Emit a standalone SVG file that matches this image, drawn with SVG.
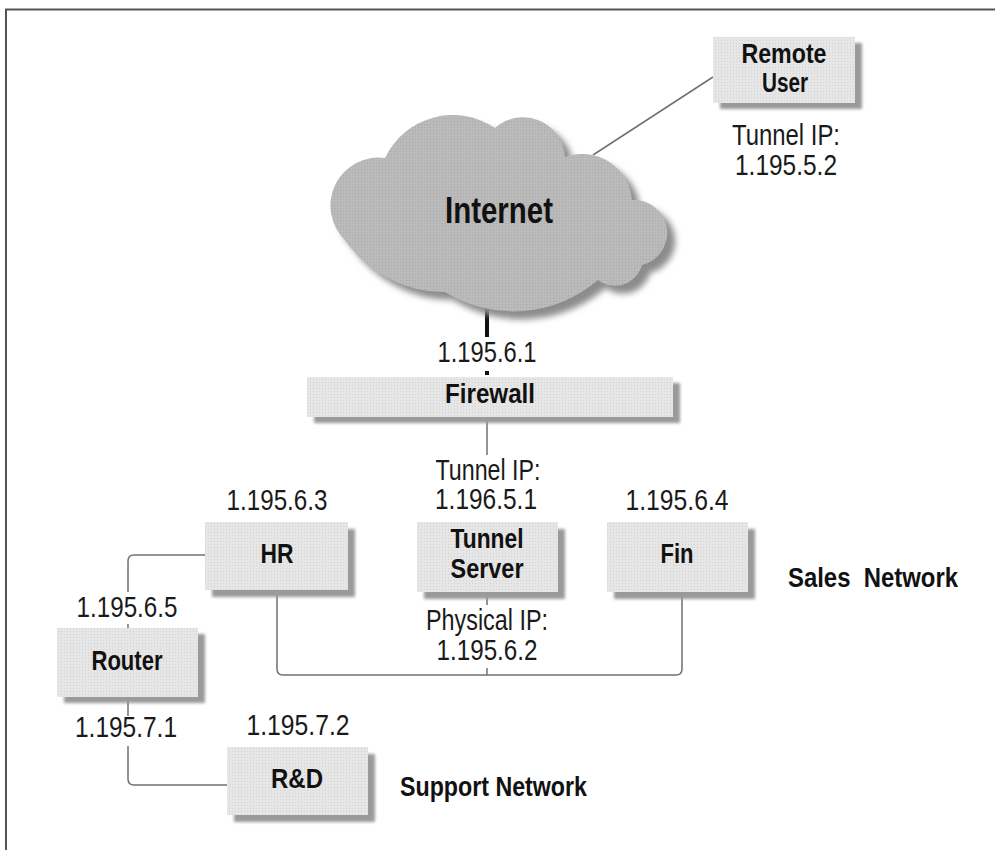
<svg xmlns="http://www.w3.org/2000/svg" width="995" height="850" viewBox="0 0 995 850">
<style>
  .lbl { font-family: "Liberation Sans", Arial, sans-serif; font-size: 29px; fill: #1a1a1a; text-anchor: middle; }
  .bold { font-family: "Liberation Sans", Arial, sans-serif; font-size: 28px; font-weight: bold; fill: #111; text-anchor: middle; }
  .net { text-anchor: start; white-space: pre; }
  .box { fill: url(#stipple); }
  .shadow { fill: #9a9a9a; filter: url(#blur); }
  .conn { fill: none; stroke: #707070; stroke-width: 1.5; }
  .thick { fill: none; stroke: #111; stroke-width: 4; }
</style>
<defs>
  <filter id="blur" x="-10%" y="-10%" width="120%" height="120%"><feGaussianBlur stdDeviation="1.6"/></filter>
  <filter id="cblur" x="-10%" y="-10%" width="120%" height="120%"><feGaussianBlur stdDeviation="3"/></filter>
  <pattern id="stipple" width="3" height="3" patternUnits="userSpaceOnUse">
    <rect width="3" height="3" fill="#e6e6e6"/>
    <rect x="1" y="1" width="1" height="1" fill="#d2d2d2"/>
  </pattern>
  <pattern id="cstipple" width="3" height="3" patternUnits="userSpaceOnUse">
    <rect width="3" height="3" fill="#bababa"/>
    <rect x="1" y="1" width="1" height="1" fill="#a8a8a8"/>
  </pattern>
  <path id="cloudShape" d="M345,240 A48,48 0 0 1 385,158 A75,75 0 0 1 495,128 A42,42 0 0 1 565,157 A50,50 0 0 1 632,200 A33,33 0 0 1 642,265 A28,28 0 0 1 598,280 A130,130 0 0 1 445,292 A120,120 0 0 1 345,240 Z"/>
</defs>

<rect x="0" y="0" width="995" height="850" fill="#ffffff"/>
<g id="frame">
  <line x1="5" y1="9.5" x2="995" y2="9.5" stroke="#555" stroke-width="2"/>
  <line x1="6" y1="9" x2="6" y2="850" stroke="#555" stroke-width="2"/>
</g>

<g id="connectors">
  <path class="conn" d="M713,77 L593,155"/>
  <path class="thick" d="M487,308 L487,337"/>
  <path class="thick" d="M487,371 L487,375"/>
  <path class="conn" d="M487,418 L487,455"/>
  <path class="conn" d="M487,592 L487,605"/>
  <path class="conn" d="M487,668 L487,675"/>
  <path class="conn" d="M277,590 L277,669 Q277,675 283,675 L676,675 Q682,675 682,669 L682,592"/>
  <path class="conn" d="M205,555 L134,555 Q128,555 128,561 L128,592"/>
  <path class="conn" d="M128,624 L128,628"/>
  <path class="conn" d="M128,697 L128,716"/>
  <path class="conn" d="M128,746 L128,779 Q128,785 134,785 L227,785"/>
</g>

<g id="internet">
  <use href="#cloudShape" transform="translate(8,8)" fill="#8c8c8c" filter="url(#cblur)"/>
  <use href="#cloudShape" fill="url(#cstipple)"/>
  <text class="bold" x="499" y="223" style="font-size:36px" textLength="108" lengthAdjust="spacingAndGlyphs">Internet</text>
</g>

<g id="remote-user">
  <rect class="shadow" x="720" y="43" width="142" height="66"/>
  <rect class="box" x="713" y="37" width="142" height="66"/>
  <text class="bold" x="784" y="63" textLength="85" lengthAdjust="spacingAndGlyphs">Remote</text>
  <text class="bold" x="785" y="92" textLength="46" lengthAdjust="spacingAndGlyphs">User</text>
  <text class="lbl" x="786" y="145" textLength="108" lengthAdjust="spacingAndGlyphs">Tunnel IP:</text>
  <text class="lbl" x="786" y="175" textLength="102" lengthAdjust="spacingAndGlyphs">1.195.5.2</text>
</g>

<g id="firewall">
  <text class="lbl" x="487" y="362" textLength="99" lengthAdjust="spacingAndGlyphs">1.195.6.1</text>
  <rect class="shadow" x="314" y="383" width="366" height="40"/>
  <rect class="box" x="307" y="377" width="366" height="40"/>
  <text class="bold" x="490" y="403" textLength="90" lengthAdjust="spacingAndGlyphs">Firewall</text>
</g>

<g id="hr">
  <text class="lbl" x="277" y="510" textLength="101" lengthAdjust="spacingAndGlyphs">1.195.6.3</text>
  <rect class="shadow" x="212" y="529" width="143" height="68"/>
  <rect class="box" x="205" y="522" width="143" height="68"/>
  <text class="bold" x="277" y="563" textLength="33" lengthAdjust="spacingAndGlyphs">HR</text>
</g>

<g id="tunnel-server">
  <text class="lbl" x="488" y="480" textLength="105" lengthAdjust="spacingAndGlyphs">Tunnel IP:</text>
  <text class="lbl" x="486" y="509" textLength="102" lengthAdjust="spacingAndGlyphs">1.196.5.1</text>
  <rect class="shadow" x="424" y="529" width="141" height="70"/>
  <rect class="box" x="417" y="522" width="141" height="70"/>
  <text class="bold" x="487" y="548" textLength="73" lengthAdjust="spacingAndGlyphs">Tunnel</text>
  <text class="bold" x="487" y="578" textLength="73" lengthAdjust="spacingAndGlyphs">Server</text>
  <text class="lbl" x="487" y="630" textLength="122" lengthAdjust="spacingAndGlyphs">Physical IP:</text>
  <text class="lbl" x="487" y="660" textLength="101" lengthAdjust="spacingAndGlyphs">1.195.6.2</text>
</g>

<g id="fin">
  <text class="lbl" x="677" y="510" textLength="103" lengthAdjust="spacingAndGlyphs">1.195.6.4</text>
  <rect class="shadow" x="614" y="529" width="141" height="70"/>
  <rect class="box" x="607" y="522" width="141" height="70"/>
  <text class="bold" x="677" y="563" textLength="33" lengthAdjust="spacingAndGlyphs">Fin</text>
</g>

<g id="sales-network">
  <text class="bold net" x="788" y="587" textLength="170" lengthAdjust="spacingAndGlyphs">Sales  Network</text>
</g>

<g id="router">
  <text class="lbl" x="127" y="617" textLength="101" lengthAdjust="spacingAndGlyphs">1.195.6.5</text>
  <rect class="shadow" x="64" y="634" width="141" height="69"/>
  <rect class="box" x="57" y="628" width="141" height="69"/>
  <text class="bold" x="127" y="670" textLength="71" lengthAdjust="spacingAndGlyphs">Router</text>
  <text class="lbl" x="126" y="737" textLength="102" lengthAdjust="spacingAndGlyphs">1.195.7.1</text>
</g>

<g id="rd">
  <text class="lbl" x="298" y="735" textLength="103" lengthAdjust="spacingAndGlyphs">1.195.7.2</text>
  <rect class="shadow" x="234" y="754" width="141" height="68"/>
  <rect class="box" x="227" y="747" width="141" height="68"/>
  <text class="bold" x="297" y="788" textLength="52" lengthAdjust="spacingAndGlyphs">R&amp;D</text>
</g>

<g id="support-network">
  <text class="bold net" x="400" y="796" textLength="187" lengthAdjust="spacingAndGlyphs">Support Network</text>
</g>
</svg>
